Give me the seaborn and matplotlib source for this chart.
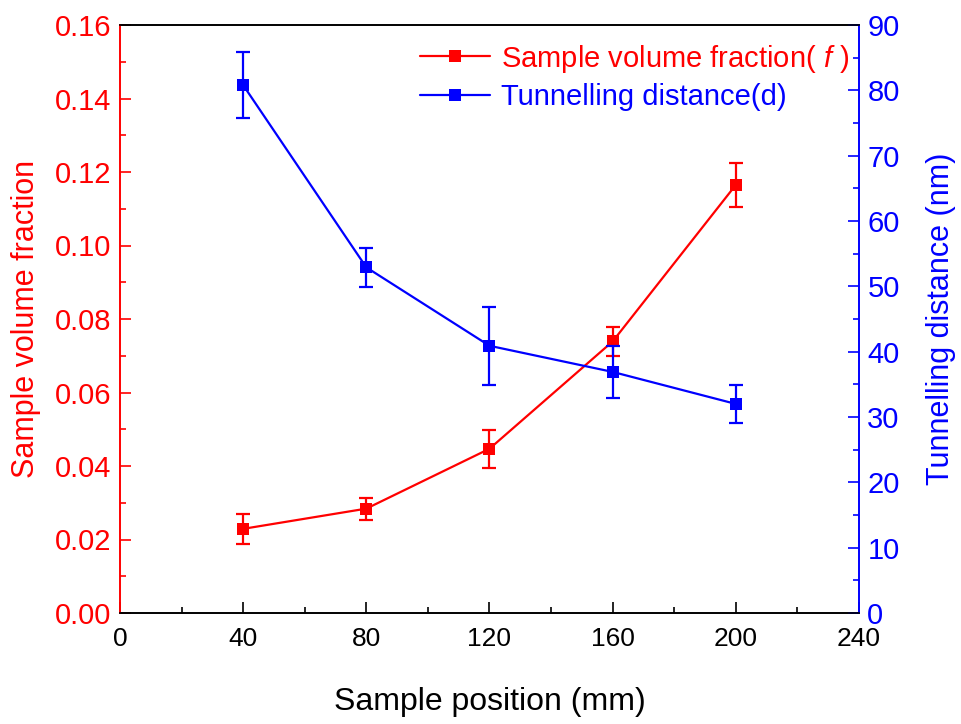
import matplotlib
matplotlib.use("Agg")
import matplotlib.pyplot as plt
from matplotlib.lines import Line2D
from matplotlib import font_manager
import numpy as np
import pandas as pd
import seaborn as sns

# Measurements along the sample
position_mm = [40, 80, 120, 160, 200]
volume_fraction = [0.0229, 0.0284, 0.0447, 0.0739, 0.1165]
volume_fraction_err = [0.0040, 0.0030, 0.0052, 0.0040, 0.0060]
tunnel_distance_nm = [80.8, 52.9, 40.9, 36.9, 32.0]
tunnel_distance_err = [5.0, 3.0, 6.0, 4.0, 2.95]

x_ticks = [0, 40, 80, 120, 160, 200, 240]
left_ticks = [0.00, 0.02, 0.04, 0.06, 0.08, 0.10, 0.12, 0.14, 0.16]
right_ticks = [0, 10, 20, 30, 40, 50, 60, 70, 80, 90]

RED = "#ff0000"
BLUE = "#0000ff"

sns.set_theme(style="white")
plt.rcParams["font.family"] = ["Liberation Sans", "DejaVu Sans"]
plt.rcParams["text.color"] = "black"
plt.rcParams["axes.labelcolor"] = "black"
plt.rcParams["mathtext.fontset"] = "custom"
plt.rcParams["mathtext.it"] = "Liberation Sans:italic"

# Condensed face for the x axis, if available
try:
    font_manager.findfont("Liberation Sans Narrow", fallback_to_default=False)
    narrow = ["Liberation Sans Narrow", "DejaVu Sans"]
    x_tick_size = 21
except Exception:
    narrow = ["Liberation Sans", "DejaVu Sans"]
    x_tick_size = 19

df = pd.DataFrame({
    "pos": position_mm,
    "f": volume_fraction,
    "f_err": volume_fraction_err,
    "d": tunnel_distance_nm,
    "d_err": tunnel_distance_err,
})

fig = plt.figure(figsize=(9.62, 7.24), dpi=100)
ax = fig.add_axes([120 / 962, 1 - 613 / 724, (859 - 120) / 962, (613 - 25) / 724])
ax2 = ax.twinx()

lw = 1.6
ms = 8.5

sns.lineplot(data=df, x="pos", y="f", ax=ax, color=RED, marker="s", markersize=ms,
             markeredgewidth=0, linewidth=lw, errorbar=None, legend=False)
ax.errorbar(df["pos"], df["f"], yerr=df["f_err"], fmt="none", ecolor=RED,
            elinewidth=lw, capsize=5, capthick=lw)

sns.lineplot(data=df, x="pos", y="d", ax=ax2, color=BLUE, marker="s", markersize=ms,
             markeredgewidth=0, linewidth=lw, errorbar=None, legend=False)
ax2.errorbar(df["pos"], df["d"], yerr=df["d_err"], fmt="none", ecolor=BLUE,
             elinewidth=lw, capsize=5, capthick=lw)

ax.set_xlim(0, 240)
ax.set_ylim(0, 0.16)
ax2.set_ylim(0, 90)

ax.set_xticks(x_ticks)
ax.set_xticks(np.arange(20, 240, 40), minor=True)
ax.set_yticks(left_ticks)
ax.set_yticklabels([f"{v:.2f}" for v in left_ticks])
ax.set_yticks(np.arange(0.01, 0.16, 0.02), minor=True)
ax2.set_yticks(right_ticks)
ax2.set_yticks(np.arange(5, 90, 10), minor=True)

# Spines
for a in (ax, ax2):
    for s in a.spines.values():
        s.set_linewidth(1.2)
        s.set_color("black")
    a.spines["left"].set_color(RED)
    a.spines["right"].set_color(BLUE)

ax.tick_params(axis="x", which="both", direction="in", bottom=True, top=False,
               color="black", labelcolor="black", width=1.2, labelsize=x_tick_size, pad=10)
ax.tick_params(axis="x", which="major", length=8)
ax.tick_params(axis="x", which="minor", length=4.5)
for lbl in ax.get_xticklabels():
    lbl.set_family(narrow)

ax.tick_params(axis="y", which="both", direction="in", left=True, right=False,
               color=RED, labelcolor=RED, width=1.2, labelsize=21, pad=6)
ax.tick_params(axis="y", which="major", length=8)
ax.tick_params(axis="y", which="minor", length=4.5)

ax2.tick_params(axis="y", which="both", direction="in", right=True, left=False,
                color=BLUE, labelcolor=BLUE, width=1.2, labelsize=21, pad=6)
ax2.tick_params(axis="y", which="major", length=8)
ax2.tick_params(axis="y", which="minor", length=4.5)

ax.set_xlabel("Sample position (mm)", fontsize=23, family=narrow, color="black", labelpad=26)
ax.set_ylabel("Sample volume fraction", fontsize=22, color=RED, labelpad=10)
ax2.set_ylabel("Tunnelling distance (nm)", fontsize=22, color=BLUE, labelpad=19)

ax.grid(False)
ax2.grid(False)

handles = [
    Line2D([], [], color=RED, marker="s", markersize=ms, markeredgewidth=0, linewidth=lw),
    Line2D([], [], color=BLUE, marker="s", markersize=ms, markeredgewidth=0, linewidth=lw),
]
labels = ["Sample volume fraction( $f$ )", "Tunnelling distance(d)"]
leg = ax2.legend(handles, labels, loc="upper right", bbox_to_anchor=(1.01, 1.0),
                 frameon=False, fontsize=21, handlelength=2.4, handletextpad=0.35,
                 labelspacing=0.3, borderaxespad=0.2)
leg.get_texts()[0].set_color(RED)
leg.get_texts()[1].set_color(BLUE)

fig.savefig("out.png", dpi=100)
